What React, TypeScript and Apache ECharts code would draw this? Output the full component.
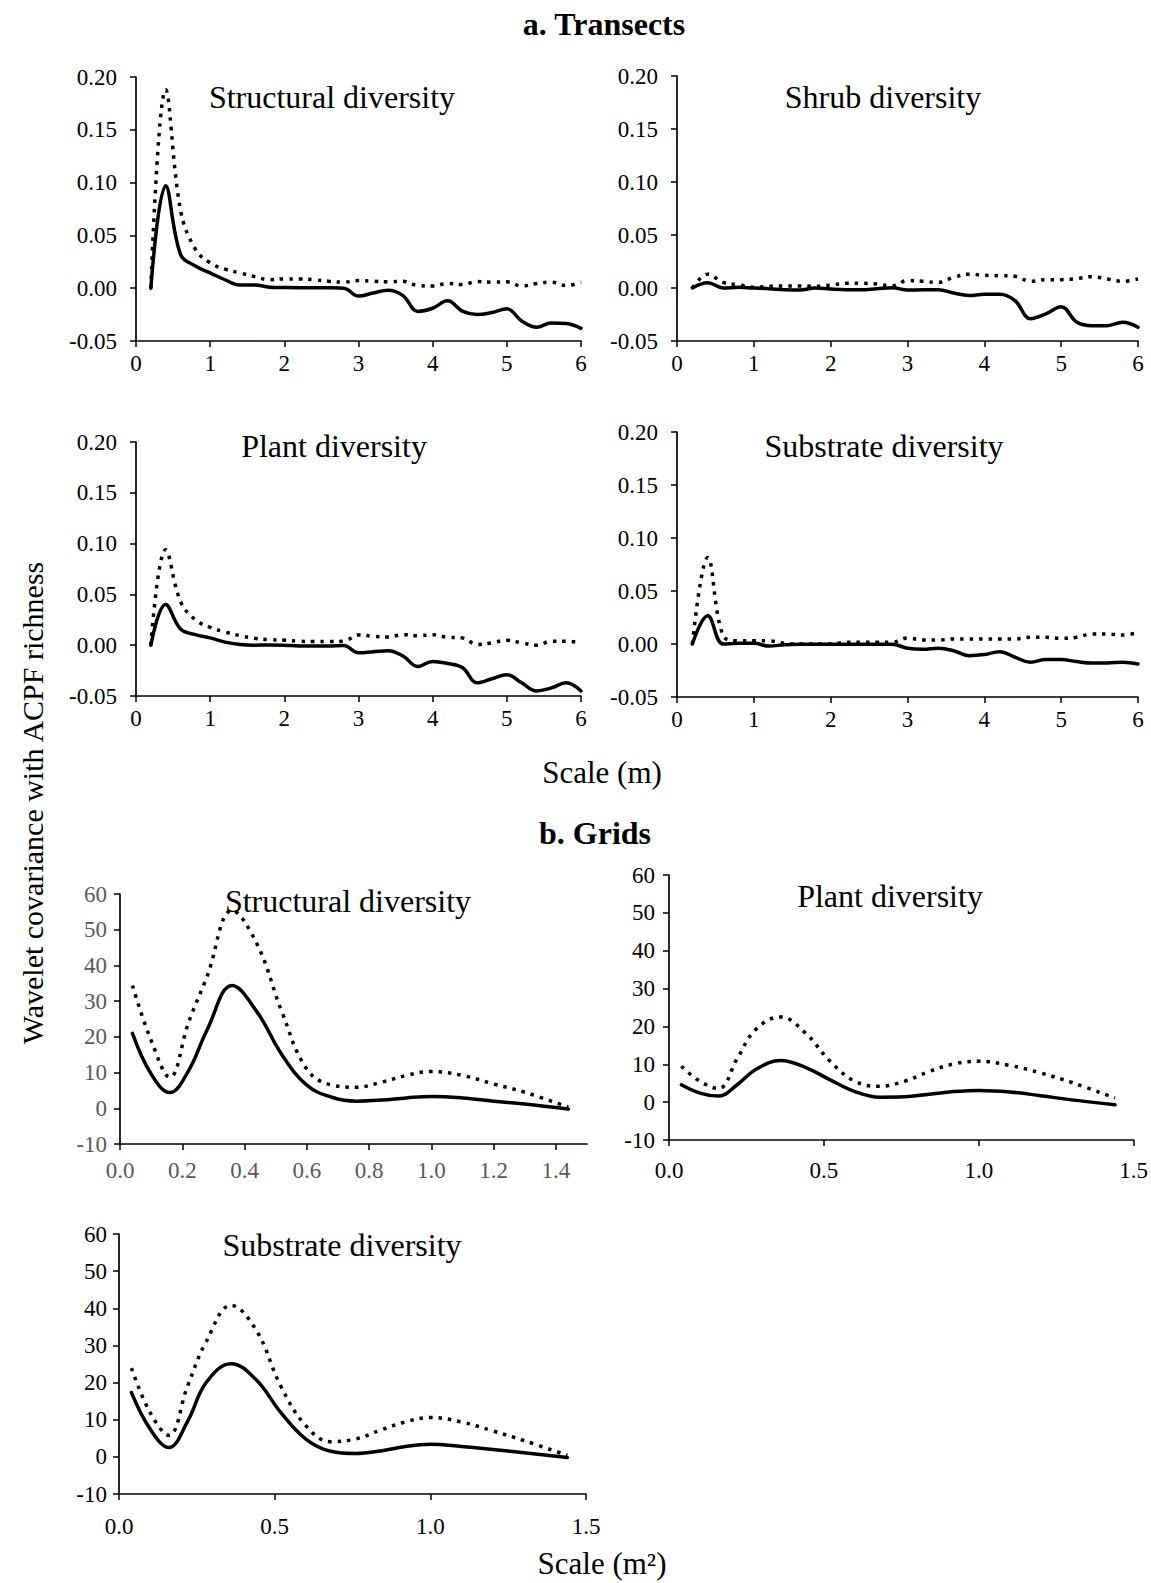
import React, { useEffect, useRef } from "react";
import * as echarts from "echarts";

// ---------- data ----------
const transectScale = [0.2, 0.4, 0.6, 0.8, 1.0, 1.2, 1.4, 1.6, 1.8, 2.0, 2.2, 2.4, 2.6, 2.8, 3.0, 3.2, 3.4, 3.6, 3.8, 4.0, 4.2, 4.4, 4.6, 4.8, 5.0, 5.2, 5.4, 5.6, 5.8, 6.0];

const tStructSolid = [0, 0.097, 0.032, 0.021, 0.0145, 0.008, 0.003, 0.003, 0.001, 0.0006, 0.0005, 0.0005, 0.0004, 0.0, -0.0075, -0.0045, -0.002, -0.007, -0.022, -0.019, -0.012, -0.0217, -0.025, -0.023, -0.0195, -0.031, -0.037, -0.033, -0.0335, -0.038];
const tStructDotted = [0, 0.188, 0.074, 0.037, 0.024, 0.018, 0.0145, 0.011, 0.008, 0.0088, 0.0088, 0.008, 0.0066, 0.0057, 0.0072, 0.0066, 0.006, 0.0066, 0.0025, 0.002, 0.0044, 0.0035, 0.0063, 0.0057, 0.006, 0.002, 0.0044, 0.0057, 0.0025, 0.0057];

const tShrubSolid = [0, 0.005, 0, 0.0006, 0, -0.0006, -0.0016, -0.002, 0, -0.001, -0.0016, -0.0016, -0.0006, 0.0003, -0.002, -0.0016, -0.0016, -0.0047, -0.007, -0.006, -0.006, -0.012, -0.029, -0.0245, -0.0176, -0.032, -0.0355, -0.0355, -0.0324, -0.037];
const tShrubDotted = [0, 0.013, 0.0053, 0.003, 0.0006, 0.0016, 0.002, 0.002, 0.0016, 0.0028, 0.0044, 0.0044, 0.0038, 0.002, 0.007, 0.0063, 0.0053, 0.01, 0.013, 0.012, 0.0116, 0.011, 0.0063, 0.0079, 0.0079, 0.0088, 0.0107, 0.0085, 0.0063, 0.0085];

const tPlantSolid = [0, 0.04, 0.016, 0.0104, 0.0072, 0.003, 0.0007, 0, 0.0003, 0, -0.0007, -0.0007, -0.0007, -0.0003, -0.0075, -0.0065, -0.0055, -0.0107, -0.021, -0.016, -0.018, -0.022, -0.037, -0.033, -0.029, -0.037, -0.045, -0.042, -0.037, -0.045];
const tPlantDotted = [0, 0.094, 0.043, 0.025, 0.0176, 0.013, 0.0094, 0.0068, 0.0055, 0.0049, 0.0039, 0.0036, 0.0036, 0.0039, 0.0101, 0.0088, 0.0081, 0.0104, 0.0094, 0.0104, 0.0078, 0.0072, 0.0007, 0.0023, 0.0049, 0.0023, 0, 0.0039, 0.0039, 0.0023];

const tSubstrateSolid = [0, 0.0266, 0, 0.0006, 0.0006, -0.002, -0.0006, -0.0003, -0.0003, -0.0003, -0.0003, -0.0003, -0.0003, -0.0003, -0.004, -0.005, -0.004, -0.0063, -0.011, -0.01, -0.0072, -0.0125, -0.0172, -0.0147, -0.0147, -0.0166, -0.0179, -0.0179, -0.0172, -0.0188];
const tSubstrateDotted = [0, 0.0815, 0.008, 0.003, 0.003, 0.003, 0.0006, 0, 0, 0, 0.0016, 0.0016, 0.0016, 0.0016, 0.0056, 0.0038, 0.0038, 0.0047, 0.0047, 0.0047, 0.0047, 0.0047, 0.0063, 0.0063, 0.0053, 0.0063, 0.0094, 0.0094, 0.0085, 0.0107];

const gridScale = [0.04, 0.10, 0.16, 0.22, 0.28, 0.36, 0.44, 0.52, 0.60, 0.68, 0.76, 0.84, 0.92, 1.00, 1.10, 1.20, 1.30, 1.44];

const gStructSolid = [21.0, 9.6, 4.4, 10.5, 22, 34.4, 27, 15, 6.5, 3.1, 2.0, 2.3, 2.9, 3.3, 2.9, 2.0, 1.2, -0.2];
const gStructDotted = [34.4, 19, 8.7, 24, 37, 55.4, 46, 27, 11, 6.5, 5.9, 7.3, 9.2, 10.3, 9.2, 6.8, 4.5, 0.3];

const gPlantSolid = [4.6, 2.4, 1.6, 4.6, 8.6, 11.0, 9.2, 5.9, 2.8, 1.3, 1.4, 2.1, 2.8, 3.1, 2.7, 1.7, 0.6, -0.7];
const gPlantDotted = [9.5, 5.5, 3.6, 11.5, 19.2, 22.5, 18.3, 10.8, 5.5, 4.2, 5.5, 8.1, 10.1, 10.8, 9.7, 7.7, 5.2, 1.1];

const gSubstrateSolid = [17.3, 7.5, 2.5, 9.5, 20, 25.1, 20.8, 11.9, 4.8, 1.5, 0.9, 1.6, 2.8, 3.4, 2.8, 2.0, 1.1, -0.2];
const gSubstrateDotted = [23.9, 11.9, 5.8, 19, 31, 40.8, 34.2, 19, 8.4, 4.1, 4.8, 7.2, 9.4, 10.6, 9.4, 7.0, 4.4, 0.4];

const transectYTicks = [-0.05, 0.2, 0.05];
const gridYTicks = [-10, 60, 10];
const grid1XLabels = [0, 0.2, 0.4, 0.6, 0.8, 1.0, 1.2, 1.4];

// ---------- layout ----------
const FONT = "'Liberation Serif', 'Times New Roman', serif";
const W = 1151;
const H = 1583;

type Panel = {
  title: string;
  xs: number[];
  solid: number[];
  dotted: number[];
  kind: "transect" | "grid";
  grid: { left: number; top: number; width: number; height: number };
  tx: number;
  ty: number;
  labelColor: string;
  xMargin: number;
  yMargin: number;
  customX?: number[];
};

const panels: Panel[] = [
  { title: "Structural diversity", xs: transectScale, solid: tStructSolid, dotted: tStructDotted, kind: "transect",
    grid: { left: 136, top: 77, width: 445, height: 264 }, tx: 332, ty: 97, labelColor: "#000", xMargin: 11, yMargin: 19 },
  { title: "Shrub diversity", xs: transectScale, solid: tShrubSolid, dotted: tShrubDotted, kind: "transect",
    grid: { left: 677, top: 76, width: 461, height: 265 }, tx: 883, ty: 97, labelColor: "#000", xMargin: 11, yMargin: 19 },
  { title: "Plant diversity", xs: transectScale, solid: tPlantSolid, dotted: tPlantDotted, kind: "transect",
    grid: { left: 136, top: 442, width: 445, height: 254 }, tx: 334, ty: 446, labelColor: "#000", xMargin: 11, yMargin: 19 },
  { title: "Substrate diversity", xs: transectScale, solid: tSubstrateSolid, dotted: tSubstrateDotted, kind: "transect",
    grid: { left: 677, top: 432, width: 461, height: 265 }, tx: 884, ty: 446, labelColor: "#000", xMargin: 11, yMargin: 19 },
  { title: "Structural diversity", xs: gridScale, solid: gStructSolid, dotted: gStructDotted, kind: "grid",
    grid: { left: 120, top: 894, width: 467, height: 250 }, tx: 348, ty: 901, labelColor: "#595959", xMargin: 15, yMargin: 13,
    customX: grid1XLabels },
  { title: "Plant diversity", xs: gridScale, solid: gPlantSolid, dotted: gPlantDotted, kind: "grid",
    grid: { left: 669, top: 875, width: 466, height: 265 }, tx: 890, ty: 896, labelColor: "#000", xMargin: 19, yMargin: 14 },
  { title: "Substrate diversity", xs: gridScale, solid: gSubstrateSolid, dotted: gSubstrateDotted, kind: "grid",
    grid: { left: 119, top: 1234, width: 467, height: 260 }, tx: 342, ty: 1245, labelColor: "#000", xMargin: 21, yMargin: 12 },
];

function buildOption() {
  const grids: any[] = [];
  const xAxes: any[] = [];
  const yAxes: any[] = [];
  const series: any[] = [];
  const graphics: any[] = [];

  const axisLine = { show: true, onZero: false, lineStyle: { color: "#000", width: 1.7 } };
  const axisTick = { show: true, length: 6, lineStyle: { color: "#000", width: 1.5 } };

  panels.forEach((p, i) => {
    grids.push({ ...p.grid, containLabel: false });
    const isT = p.kind === "transect";
    const xAxis: any = {
      type: "value",
      gridIndex: i,
      min: 0,
      max: isT ? 6 : 1.5,
      interval: isT ? 1 : 0.5,
      axisLine,
      axisTick: { ...axisTick },
      splitLine: { show: false },
      axisLabel: {
        color: p.labelColor,
        fontFamily: FONT,
        fontSize: 23,
        margin: p.xMargin,
        formatter: (v: number) => (isT ? String(Math.round(v)) : v.toFixed(1)),
      },
    };
    if (p.customX) {
      xAxis.axisLabel.customValues = p.customX;
      xAxis.axisTick.customValues = p.customX;
    }
    xAxes.push(xAxis);
    const yt = isT ? transectYTicks : gridYTicks;
    yAxes.push({
      type: "value",
      gridIndex: i,
      min: yt[0],
      max: yt[1],
      interval: yt[2],
      axisLine,
      axisTick,
      splitLine: { show: false },
      axisLabel: {
        color: p.labelColor,
        fontFamily: FONT,
        fontSize: 23,
        margin: p.yMargin,
        formatter: (v: number) => (isT ? v.toFixed(2) : String(Math.round(v))),
      },
    });
    const mk = (arr: number[]) => p.xs.map((x, j) => [x, arr[j]]);
    series.push({
      type: "line",
      xAxisIndex: i,
      yAxisIndex: i,
      data: mk(p.dotted),
      symbol: "none",
      smooth: 0.4,
      lineStyle: { color: "#000", width: 3.5, type: [3.5, 6], cap: "butt" },
      z: 3,
    });
    series.push({
      type: "line",
      xAxisIndex: i,
      yAxisIndex: i,
      data: mk(p.solid),
      symbol: "none",
      smooth: 0.4,
      lineStyle: { color: "#000", width: 3.5, type: "solid", cap: "round", join: "round" },
      z: 4,
    });
    graphics.push({
      type: "text",
      x: p.tx,
      y: p.ty,
      z: 10,
      style: {
        text: p.title,
        fontFamily: FONT,
        fontSize: 32,
        fill: "#000",
        align: "center",
        verticalAlign: "middle",
      },
    });
  });

  const txt = (text: string, x: number, y: number, size: number, bold = false, rotation = 0) => ({
    type: "text",
    x,
    y,
    rotation,
    z: 10,
    style: {
      text,
      fontFamily: FONT,
      fontSize: size,
      fontWeight: bold ? "bold" : "normal",
      fill: "#000",
      align: "center",
      verticalAlign: "middle",
    },
  });

  graphics.push(txt("a. Transects", 604, 24, 32, true));
  graphics.push(txt("b. Grids", 595, 833, 32, true));
  graphics.push(txt("Scale (m)", 602, 772, 31));
  graphics.push(txt("Scale (m\u00B2)", 602, 1563, 31));
  graphics.push(txt("Wavelet covariance with ACPF richness", 32, 803, 30, false, Math.PI / 2));

  return {
    animation: false,
    backgroundColor: "#fff",
    grid: grids,
    xAxis: xAxes,
    yAxis: yAxes,
    series,
    graphic: graphics,
  };
}

export default function App() {
  const ref = useRef<HTMLDivElement>(null);
  useEffect(() => {
    if (!ref.current) return;
    const chart = echarts.init(ref.current, null, { renderer: "svg" });
    chart.setOption(buildOption() as any);
    return () => chart.dispose();
  }, []);
  return (
    <div
      ref={ref}
      style={{ position: "absolute", left: 0, top: 0, width: W, height: H, background: "#fff" }}
    />
  );
}
